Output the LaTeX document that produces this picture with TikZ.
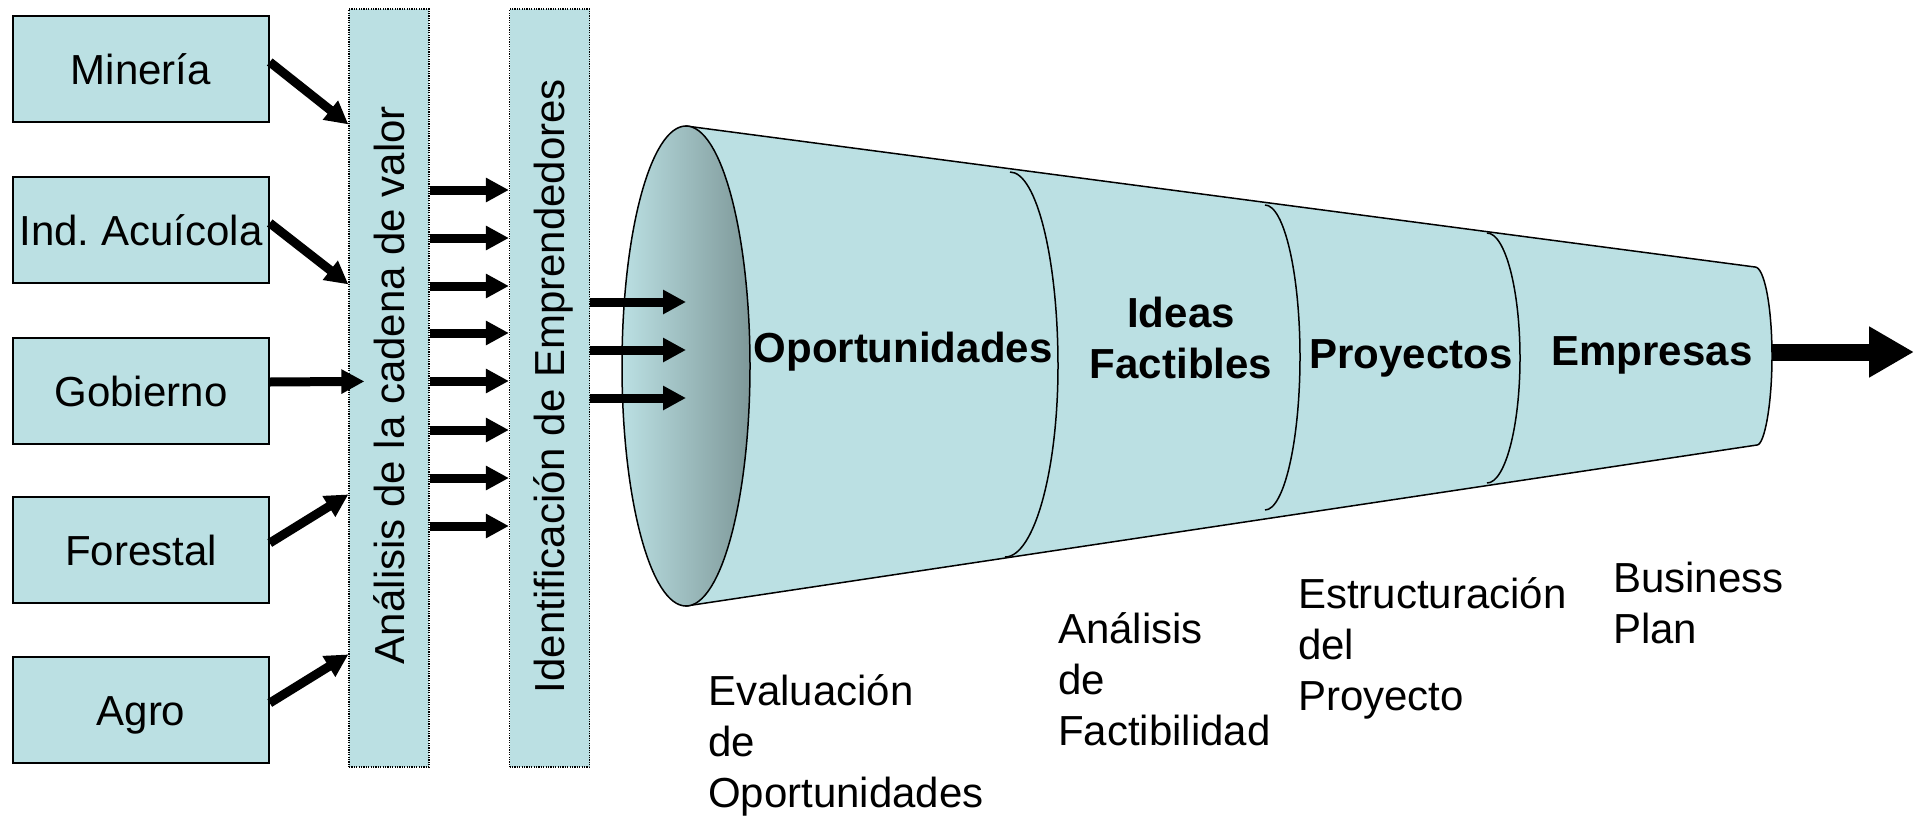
\documentclass[tikz,border=0pt]{standalone}
\usepackage{fontspec}
\setmainfont{Liberation Sans}
\usetikzlibrary{arrows.meta,calc,shapes.geometric}
\definecolor{boxfill}{HTML}{BBE0E3}
\definecolor{mouthdark}{HTML}{7E9899}
\frenchspacing
\begin{document}
\begin{tikzpicture}[x=1pt,y=-1pt,
  sector/.style={draw=black, line width=1.5pt, fill=boxfill, minimum width=256pt, minimum height=106pt, inner sep=0pt, text height=30pt, text depth=0pt, font=\fontsize{42}{50}\selectfont},
  column/.style={draw=black, line width=1.2pt, dash pattern=on 1.2pt off 1.2pt, fill=boxfill, minimum width=80pt, minimum height=758pt, inner sep=0pt},
  coltext/.style={rotate=90, text height=30pt, text depth=0pt, inner sep=0pt, font=\fontsize{42}{50}\selectfont},
  thickarrow/.style={line width=9pt, -{Triangle[length=23pt,width=23pt]}},
  stage/.style={font=\bfseries\fontsize{42}{51}\selectfont, anchor=base, align=center, inner sep=0pt},
  note/.style={font=\fontsize{42}{51}\selectfont, anchor=base west, align=left, inner sep=0pt},
  divider/.style={draw=black, line width=1.5pt},
]
\fill[white] (0,0) rectangle (1915,817);
\useasboundingbox (0,0) rectangle (1915,817);

% sector boxes
\node[sector] (min) at (141,69) {Minería};
\node[sector] (acu) at (141,230) {Ind.\ Acuícola};
\node[sector] (gob) at (141,391) {Gobierno};
\node[sector] (for) at (141,550) {Forestal};
\node[sector] (agr) at (141,710) {Agro};

% columns
\node[column] (c1) at (389,388) {};
\node[coltext] (t1) at (389,385) {Análisis de la cadena de valor};
\node[column] (c2) at (549.5,388) {};
\node[coltext] (t2) at (549.5,386) {Identificación de Emprendedores};

% sector arrows
\draw[thickarrow] ($(min.east)+(0,-7)$) -- ($(c1.north west)+(0,116)$);
\draw[thickarrow] ($(acu.east)+(0,-7)$) -- ($(c1.north west)+(0,276)$);
\draw[thickarrow] ($(gob.east)+(0,-9)$) -- ($(c1.north west)+(16,373)$);
\draw[thickarrow] ($(for.east)+(0,-7)$) -- ($(c1.north west)+(0,486)$);
\draw[thickarrow] ($(agr.east)+(0,-7)$) -- ($(c1.north west)+(0,646)$);

% column to column arrows
\foreach \yy in {190,238,286,333,381,430,478,526}
  \draw[thickarrow] (c1.east |- 0,\yy) -- (c2.west |- 0,\yy);

% funnel body
\draw[line width=1.5pt, fill=boxfill]
  (686,126) -- (1755,267)
  .. controls (1764.4,267) and (1772,307) .. (1772,356)
  .. controls (1772,405) and (1764.4,445) .. (1757,445)
  -- (686,606) -- cycle;

% dividers
\draw[divider] (1010,172) .. controls (1036.5,172) and (1058,259) .. (1058,366)
  .. controls (1058,471) and (1034,557) .. (1005,557);
\draw[divider] (1265,205) .. controls (1284,205) and (1300,273) .. (1300,357)
  .. controls (1300,441) and (1284,510) .. (1265,510);
\draw[divider] (1487,233) .. controls (1505,233) and (1520,289) .. (1520,358)
  .. controls (1520,427) and (1505,483) .. (1487,483);

% mouth of funnel
\node[ellipse, draw=black, line width=1.5pt, minimum width=128pt, minimum height=480pt, inner sep=0pt, left color=boxfill, right color=mouthdark] (mouth) at (686,366) {};

% column 2 to funnel arrows
\foreach \yy in {302,350,398}
  \draw[thickarrow] (c2.east |- 0,\yy) -- (mouth.center |- 0,\yy);

% output arrow
\coordinate (fend) at (1772,352);
\coordinate (fout) at (1914,352);
\draw[line width=17pt, -{Triangle[length=45pt,width=48pt]}] (fend) -- (fout);

% stage labels (base = last line)
\node[stage] (opp) at (903,362) {Oportunidades};
\node[stage] (ideas) at (1181,378) {Ideas\\Factibles};
\node[stage] (proy) at (1411,368) {Proyectos};
\node[stage] (emp) at (1652,365) {Empresas};

% notes (base = last line)
\node[note] (n1) at (708,807) {Evaluación\\de\\Oportunidades};
\node[note] (n2) at (1058,745) {Análisis\\de\\Factibilidad};
\node[note] (n3) at (1298,710) {Estructuración\\del\\Proyecto};
\node[note] (n4) at (1613,643) {Business\\Plan};
\end{tikzpicture}
\end{document}
